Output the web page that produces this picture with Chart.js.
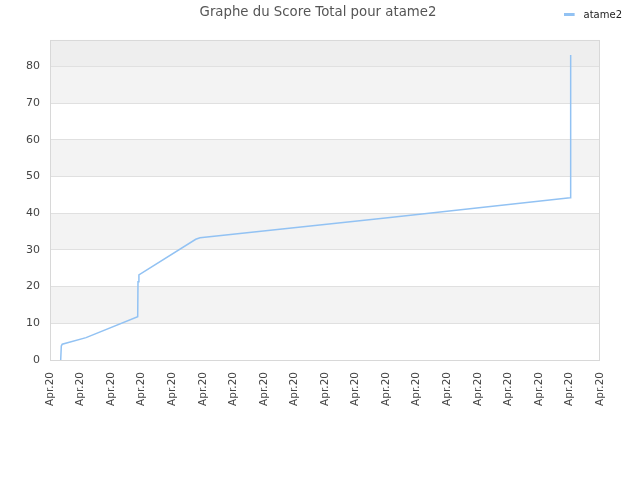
<!DOCTYPE html>
<html>
<head>
<meta charset="utf-8">
<script src="https://cdn.jsdelivr.net/npm/chart.js@4/dist/chart.umd.min.js"></script>
<style>
  html, body { margin: 0; padding: 0; background: #fff; }
  #wrap { width: 640px; height: 480px; }
</style>
</head>
<body>
<div id="wrap"><canvas id="chart"></canvas></div>
<script>
// Données
const playerName = 'atame2';
const dayTicks = ['Apr.20', 'Apr.20', 'Apr.20', 'Apr.20', 'Apr.20', 'Apr.20', 'Apr.20',
    'Apr.20', 'Apr.20', 'Apr.20', 'Apr.20', 'Apr.20', 'Apr.20', 'Apr.20', 'Apr.20',
    'Apr.20', 'Apr.20', 'Apr.20', 'Apr.20'];
const times = [0.35, 0.37, 0.40, 1.18, 2.87, 2.88, 2.91, 4.77, 4.91, 11.13, 17.02, 17.03, 17.05];
const scores = [0, 3.8, 4.3, 6.1, 11.8, 21.3, 23.2, 32.9, 33.3, 38.8, 44.2, 75.3, 83.1];
const yMax = 87.2;

const lineColor = '#92c2f3';

// Petit trait pour la légende
const legendLine = document.createElement('canvas');
legendLine.width = 15;
legendLine.height = 3;
(() => {
    const c = legendLine.getContext('2d');
    c.fillStyle = lineColor;
    c.fillRect(0, 0, 11, 3);
})();

// Bandes de fond + cadre
const bandsPlugin = {
    id: 'bands',
    afterLayout(chart) {
        // titre centré sur toute la largeur, légende dans le coin haut droit
        const tb = chart.titleBlock;
        if (tb) { tb.left += 18; tb.right += 18; }
        const lg = chart.legend;
        if (lg) {
            lg.left += 30; lg.right += 30;
            lg.top -= 10; lg.bottom -= 10;
        }
    },
    beforeDraw(chart) {
        const { ctx, chartArea, scales } = chart;
        const y = scales.y;
        ctx.save();
        for (let v = 0; v < yMax; v += 10) {
            const top = y.getPixelForValue(Math.min(v + 10, yMax));
            const bottom = y.getPixelForValue(v);
            let color = null;
            if (v >= 80) color = '#eeeeee';
            else if ((v / 10) % 2 === 1) color = '#f3f3f3';
            if (color) {
                ctx.fillStyle = color;
                ctx.fillRect(chartArea.left, top, chartArea.right - chartArea.left, bottom - top);
            }
        }
        ctx.restore();
    },
    afterDatasetsDraw(chart) {
        const { ctx, chartArea } = chart;
        ctx.save();
        ctx.strokeStyle = '#d8d8d8';
        ctx.lineWidth = 1;
        ctx.strokeRect(chartArea.left + 0.5, chartArea.top + 0.5,
            chartArea.right - chartArea.left - 1, chartArea.bottom - chartArea.top);
        ctx.restore();
    }
};

const ctx = document.getElementById('chart').getContext('2d');
new Chart(ctx, {
    type: 'line',
    data: {
        datasets: [{
            label: playerName,
            data: times.map((t, i) => ({ x: t, y: scores[i] })),
            borderColor: lineColor,
            backgroundColor: lineColor,
            borderWidth: 1.5,
            pointRadius: 0,
            tension: 0,
            fill: false
        }]
    },
    options: {
        responsive: true,
        maintainAspectRatio: false,
        animation: false,
        layout: { padding: { left: 0, right: 40, top: 0, bottom: 0 } },
        scales: {
            x: {
                type: 'linear',
                min: 0,
                max: dayTicks.length - 1,
                afterFit(scale) { scale.height = 120; },
                grid: { display: false, drawTicks: false },
                border: { display: false },
                ticks: {
                    stepSize: 1,
                    autoSkip: false,
                    maxRotation: 90,
                    minRotation: 90,
                    padding: 12,
                    color: '#444',
                    font: { family: 'DejaVu Sans', size: 10.5 },
                    callback: (value) => dayTicks[value]
                }
            },
            y: {
                min: 0,
                max: yMax,
                afterFit(scale) { scale.width = 50; },
                grid: {
                    drawTicks: false,
                    color: (c) => (c.tick && c.tick.value % 10 === 0 && c.tick.value > 0) ? '#e0e0e0' : 'rgba(0,0,0,0)'
                },
                border: { display: false },
                ticks: {
                    stepSize: 10,
                    padding: 10,
                    color: '#444',
                    font: { family: 'DejaVu Sans', size: 11 },
                    callback: (value) => value % 10 === 0 ? value : ''
                }
            }
        },
        plugins: {
            title: {
                display: true,
                text: 'Graphe du Score Total pour ' + playerName,
                color: '#555',
                font: { family: 'DejaVu Sans', size: 13.3, weight: 'normal' },
                padding: { top: 5, bottom: -9 }
            },
            legend: {
                display: true,
                position: 'top',
                align: 'end',
                labels: {
                    usePointStyle: true,
                    pointStyle: legendLine,
                    pointStyleWidth: 15,
                    boxHeight: 10,
                    color: '#222',
                    font: { family: 'DejaVu Sans', size: 10 },
                    padding: 8
                }
            },
            tooltip: { enabled: false }
        }
    },
    plugins: [bandsPlugin]
});
</script>
</body>
</html>
